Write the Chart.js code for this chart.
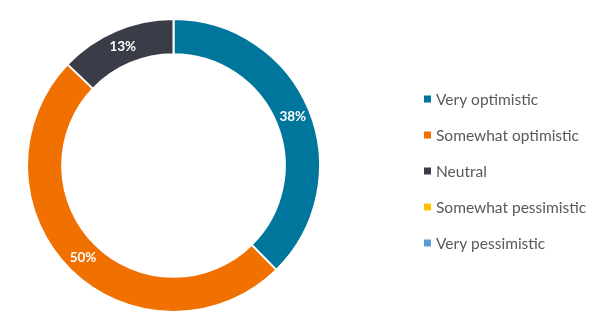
<!DOCTYPE html>
<html>
<head>
<meta charset="utf-8">
<script src="https://cdn.jsdelivr.net/npm/chart.js@4/dist/chart.umd.min.js"></script>
<style>
  html, body { margin: 0; padding: 0; background: #fff; }
  #wrap { width: 609px; height: 327px; }
</style>
</head>
<body>
<div id="wrap"><canvas id="outlook"></canvas></div>
<script>
// Outlook shares (%)
const categories = ["Very optimistic", "Somewhat optimistic", "Neutral", "Somewhat pessimistic", "Very pessimistic"];
const shares = [38, 50, 13, 0, 0];
const sliceColors = ["#00769C", "#F07000", "#3A3D47", "#FFC000", "#5B9BD5"];

const fontName = "Lato, 'Open Sans', sans-serif";

// percentage labels in the middle of each ring slice
const sliceLabels = {
  id: "sliceLabels",
  afterDatasetsDraw(chart) {
    const ctx = chart.ctx;
    const meta = chart.getDatasetMeta(0);
    ctx.save();
    ctx.font = "bold 13.5px " + fontName;
    ctx.fillStyle = "#ffffff";
    ctx.textAlign = "center";
    ctx.textBaseline = "middle";
    meta.data.forEach((arc, i) => {
      if (!shares[i]) return;
      const pos = arc.tooltipPosition();
      ctx.fillText(shares[i] + "%", pos.x, pos.y);
    });
    ctx.restore();
  }
};

// legend drawn to the right of the ring
const sideLegend = {
  id: "sideLegend",
  afterDraw(chart) {
    const ctx = chart.ctx;
    const items = Chart.overrides.doughnut.plugins.legend.labels.generateLabels(chart);
    const x = 424, y0 = 99, step = 36;
    ctx.save();
    ctx.font = "15.5px " + fontName;
    ctx.textBaseline = "middle";
    ctx.textAlign = "left";
    items.forEach((item, i) => {
      const y = y0 + i * step;
      ctx.fillStyle = item.fillStyle;
      ctx.fillRect(x, y - 3.5, 7, 7);
      ctx.fillStyle = "#595959";
      ctx.fillText(item.text, x + 12, y + 0.5);
    });
    ctx.restore();
  }
};

new Chart(document.getElementById("outlook"), {
  type: "doughnut",
  data: {
    labels: categories,
    datasets: [{
      data: shares,
      backgroundColor: sliceColors,
      borderColor: "#ffffff",
      borderWidth: 2
    }]
  },
  options: {
    responsive: true,
    maintainAspectRatio: false,
    animation: false,
    cutout: "76%",
    layout: { padding: { top: 18, bottom: 14, left: 26, right: 288 } },
    plugins: {
      legend: { display: false },
      tooltip: { enabled: false }
    }
  },
  plugins: [sliceLabels, sideLegend]
});
</script>
</body>
</html>
